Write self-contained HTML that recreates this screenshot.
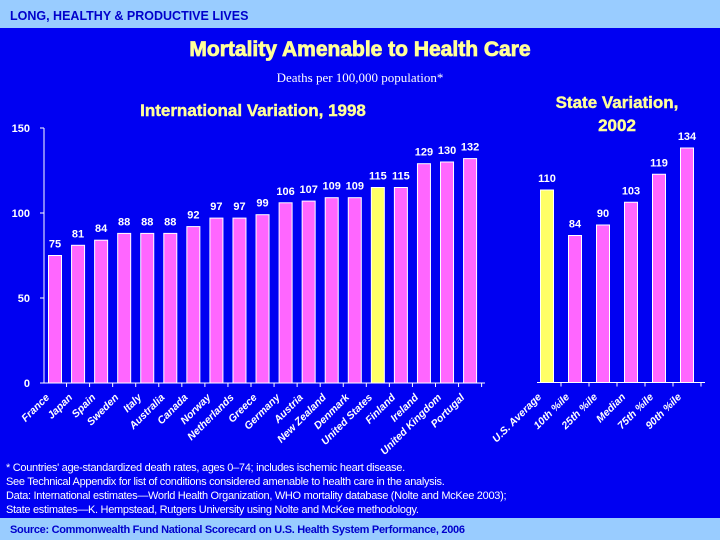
<!DOCTYPE html>
<html><head><meta charset="utf-8"><style>
body{margin:0;width:720px;height:540px;overflow:hidden;background:#0000f2;font-family:"Liberation Sans",sans-serif}
svg{display:block}
</style></head><body>
<svg id="s" width="720" height="540" viewBox="0 0 720 540">
<rect x="0" y="0" width="720" height="540" fill="#0000f2"/>
<rect x="0" y="0" width="720" height="28" fill="#99ccff"/>
<text x="10" y="20" font-size="12.5" font-weight="bold" fill="#0000cc">LONG, HEALTHY &amp; PRODUCTIVE LIVES</text>
<text x="360" y="56" text-anchor="middle" style="font-size:21px;font-weight:bold" fill="#ffff99" stroke="#ffff99" stroke-width="0.8">Mortality Amenable to Health Care</text>
<text x="360" y="82" text-anchor="middle" font-family="Liberation Serif,serif" font-size="13" fill="#fff">Deaths per 100,000 population*</text>
<text x="253" y="116" text-anchor="middle" font-size="17" font-weight="bold" fill="#ffff99" stroke="#ffff99" stroke-width="0.4">International Variation, 1998</text>
<text x="617" y="108" text-anchor="middle" font-size="17" font-weight="bold" fill="#ffff99" stroke="#ffff99" stroke-width="0.4">State Variation,</text>
<text x="617" y="131" text-anchor="middle" font-size="17" font-weight="bold" fill="#ffff99" stroke="#ffff99" stroke-width="0.4">2002</text>
<g id="g1"></g><g id="g2"></g>
<g font-size="11" fill="#fff" letter-spacing="-0.3">
<text x="6" y="471">* Countries' age-standardized death rates, ages 0–74; includes ischemic heart disease.</text>
<text x="6" y="485">See Technical Appendix for list of conditions considered amenable to health care in the analysis.</text>
<text x="6" y="499">Data: International estimates—World Health Organization, WHO mortality database (Nolte and McKee 2003);</text>
<text x="6" y="513">State estimates—K. Hempstead, Rutgers University using Nolte and McKee methodology.</text>
</g>
<rect x="0" y="518" width="720" height="22" fill="#99ccff"/>
<text x="10" y="533" font-size="11" font-weight="bold" fill="#0000cc" letter-spacing="-0.3">Source: Commonwealth Fund National Scorecard on U.S. Health System Performance, 2006</text>
</svg>
<script>
const intlCategories=["France","Japan","Spain","Sweden","Italy","Australia","Canada","Norway","Netherlands","Greece","Germany","Austria","New Zealand","Denmark","United States","Finland","Ireland","United Kingdom","Portugal"];
const intlValues=[75,81,84,88,88,88,92,97,97,99,106,107,109,109,115,115,129,130,132];
const stateCategories=["U.S. Average","10th %ile","25th %ile","Median","75th %ile","90th %ile"];
const stateValues=[110,84,90,103,119,134];
const yTicks=[0,50,100,150];
const NS="http://www.w3.org/2000/svg";
function mk(t,a,p){const e=document.createElementNS(NS,t);for(const k in a)e.setAttribute(k,a[k]);p.appendChild(e);return e;}
function panel(g,cats,vals,x0,step,axL,axR,y0,k,hl,ticks){
  const y=v=>y0-v*k;
  const ax=mk('line',{x1:axL,y1:y0,x2:axR,y2:y0,stroke:'#fff','stroke-width':1},g);
  
  
  if(ticks){
    const yl=mk('line',{x1:axL,y1:y0,x2:axL,y2:y(150),stroke:'#fff','stroke-width':1},g);
    
    
    ticks.forEach(t=>{
      const tl=mk('text',{x:axL-14,y:y(t)+4,'text-anchor':'end','font-size':11,'font-weight':'bold',fill:'#fff'},g);
      tl.textContent=t;
      
      
      const tm=mk('line',{x1:axL-4,y1:y(t),x2:axL,y2:y(t),stroke:'#fff'},g);
      
      
    });
  }
  cats.forEach((c,i)=>{
    const cx=x0+i*step,v=vals[i];
    const r=mk('rect',{x:cx-6.5,y:y(v),width:13,height:v*k,fill:c===hl?'#ffff66':'#ff66ff',stroke:'#fff','stroke-width':1},g);
    
    
    const vl=mk('text',{x:cx,y:y(v)-8,'text-anchor':'middle','font-size':11,'font-weight':'bold',fill:'#fff'},g);
    vl.textContent=v;
    
    
    const tk=mk('line',{x1:cx+step/2,y1:y0,x2:cx+step/2,y2:y0+4,stroke:'#fff'},g);
    
    
    const lx=cx-5,ly=y0+15;
    const cl=mk('text',{x:lx,y:ly,'text-anchor':'end','font-size':10.5,'font-weight':'bold','font-style':'italic',fill:'#fff',transform:`rotate(-45 ${lx} ${ly})`},g);
    cl.textContent=c;
    
    
  });
}
panel(document.getElementById('g1'),intlCategories,intlValues,55,23.06,44,485,383,1.7,"United States",yTicks);
panel(document.getElementById('g2'),stateCategories,stateValues,547,28,537,705,382.5,1.75,"U.S. Average",null);
</script>
</body></html>
